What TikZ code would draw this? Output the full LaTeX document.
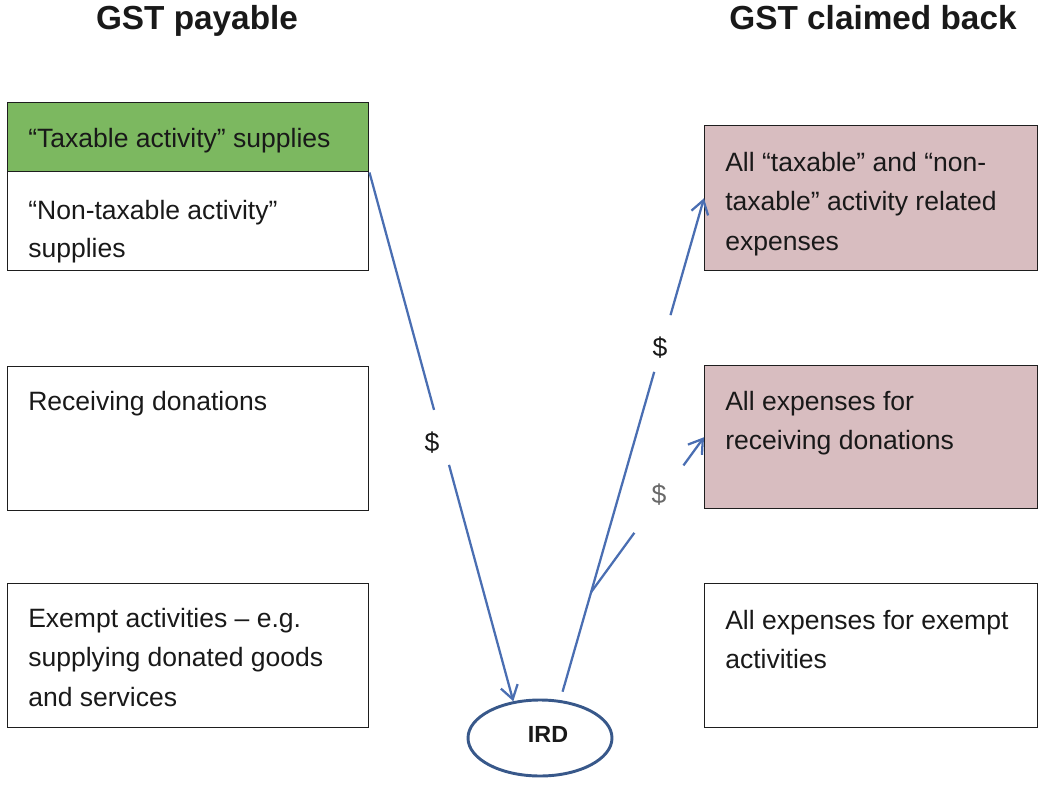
\documentclass[tikz,border=0pt]{standalone}
\usepackage{fontspec}
\setmainfont{Liberation Sans}
\usetikzlibrary{shapes.geometric,arrows.meta,calc}
\definecolor{boxgreen}{RGB}{124,184,96}
\definecolor{boxpink}{RGB}{216,189,192}
\definecolor{arrowblue}{RGB}{74,110,178}
\definecolor{irdblue}{RGB}{56,88,138}
\definecolor{boxline}{RGB}{30,30,30}
\definecolor{txtcol}{RGB}{25,25,25}
\definecolor{graytxt}{RGB}{105,105,105}
\begin{document}
\begin{tikzpicture}[x=0.75pt,y=-0.75pt,
  panel/.style={draw=boxline, line width=1.1pt, anchor=north west, inner sep=0pt},
  lpanel/.style={panel, minimum width=270.75pt},
  rpanel/.style={panel, minimum width=249.75pt, fill=boxpink},
  txt/.style={font=\fontsize{19.9pt}{29.6pt}\selectfont, align=left, anchor=north west, inner sep=0pt, text=txtcol},
  heading/.style={font=\fontsize{25pt}{30pt}\selectfont\bfseries, anchor=base, text=txtcol, inner sep=0pt},
  conn/.style={draw=arrowblue, line width=1.7pt},
  tip/.style={-{Straight Barb[length=10pt,width=13pt]}},
  dollar/.style={font=\fontsize{19.9pt}{24pt}\selectfont, text=txtcol, inner sep=0pt}
]
\path[use as bounding box] (0,0) rectangle (1041,787);

% headings
\node[heading] (h1) at (197,30) {GST payable};
\node[heading] (h2) at (873,30) {GST claimed back};

% left panels
\node[lpanel, fill=boxgreen, minimum height=51.75pt] (l1) at (7,102) {};
\node[lpanel, minimum height=74.25pt] (l2) at (7,171) {};
\node[lpanel, minimum height=108pt] (l3) at (7,366) {};
\node[lpanel, minimum height=108pt] (l4) at (7,583) {};

\node[txt] (l1t) at ($(l1.north west)+(21,26)$) {“Taxable activity” supplies};
\node[txt, font=\fontsize{19.9pt}{28.5pt}\selectfont] (l2t) at ($(l2.north west)+(21,29)$) {“Non-taxable activity”\\supplies};
\node[txt] (l3t) at ($(l3.north west)+(21,25)$) {Receiving donations};
\node[txt] (l4t) at ($(l4.north west)+(21,25)$) {Exempt activities – e.g.\\supplying donated goods\\and services};

% right panels
\node[rpanel, minimum height=108.75pt] (r1) at (704,125) {};
\node[rpanel, minimum height=107.25pt] (r2) at (704,365) {};
\node[rpanel, fill=none, minimum height=108pt] (r3) at (704,583) {};

\node[txt] (r1t) at ($(r1.north west)+(21,27)$) {All “taxable” and “non-\\taxable” activity related\\expenses};
\node[txt] (r2t) at ($(r2.north west)+(21,26)$) {All expenses for\\receiving donations};
\node[txt] (r3t) at ($(r3.north west)+(21,27)$) {All expenses for exempt\\activities};

% IRD
\node[ellipse, draw=irdblue, line width=2.2pt, minimum width=108pt, minimum height=57pt, inner sep=0pt,
      font=\fontsize{17.5pt}{20pt}\selectfont\bfseries, text=txtcol] (ird) at (540,738)
      {\hspace*{12pt}\raisebox{5pt}{IRD}};

% connector coordinates
\coordinate (a1) at ($(l1.south east)!0.449!(ird.126)$);
\coordinate (b1) at ($(l1.south east)!0.553!(ird.126)$);
\coordinate (a2) at ($(ird.62)!0.654!(r1.west)$);
\coordinate (b2) at ($(ird.62)!0.767!(r1.west)$);
\coordinate (j)  at ($(ird.62)!0.215!(r1.west)$);
\coordinate (a3) at ($(j)!0.383!(r2.west)$);
\coordinate (b3) at ($(j)!0.818!(r2.west)$);

% connectors
\draw[conn] (l1.south east) -- (a1);
\draw[conn, tip] (b1) -- (ird.126);
\draw[conn, shorten <=6.5pt] (ird.62) -- (a2);
\draw[conn, tip] (b2) -- (r1.west);
\draw[conn] (j) -- (a3);
\draw[conn, tip] (b3) -- (r2.west);

% dollar labels
\node[dollar] (d1) at (432,443) {\$};
\node[dollar] (d2) at (660,348) {\$};
\node[dollar, text=graytxt] (d3) at (659,495) {\$};
\end{tikzpicture}
\end{document}
